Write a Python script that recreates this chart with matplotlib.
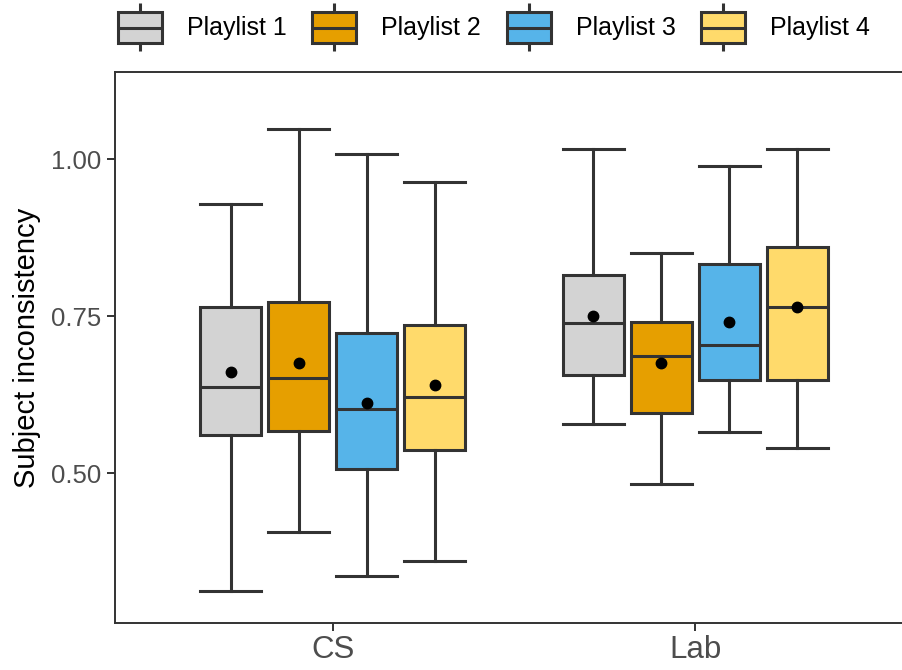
import matplotlib
matplotlib.use("Agg")
import matplotlib.pyplot as plt
from matplotlib.patches import Rectangle
from matplotlib.lines import Line2D

plt.rcParams['font.family'] = ['Liberation Sans', 'DejaVu Sans']

# Data: boxplot summary statistics per playlist within each setting
groups = ["CS", "Lab"]
playlists = ["Playlist 1", "Playlist 2", "Playlist 3", "Playlist 4"]
colors = ["#D3D3D3", "#E69F00", "#56B4E9", "#FFDA6B"]

whisker_low = {"CS": [0.313, 0.407, 0.337, 0.360], "Lab": [0.579, 0.483, 0.566, 0.540]}
q1 = {"CS": [0.561, 0.567, 0.507, 0.537], "Lab": [0.657, 0.596, 0.648, 0.648]}
median = {"CS": [0.638, 0.652, 0.602, 0.621], "Lab": [0.740, 0.687, 0.705, 0.764]}
q3 = {"CS": [0.764, 0.773, 0.723, 0.736], "Lab": [0.815, 0.741, 0.834, 0.861]}
whisker_high = {"CS": [0.929, 1.048, 1.008, 0.964], "Lab": [1.016, 0.851, 0.989, 1.016]}
means = {"CS": [0.662, 0.676, 0.612, 0.641], "Lab": [0.750, 0.675, 0.741, 0.765]}

y_ticks = [0.50, 0.75, 1.00]
y_tick_labels = ["0.50", "0.75", "1.00"]

W, H, DPI = 903, 670, 100
fig = plt.figure(figsize=(W / DPI, H / DPI), dpi=DPI)
ax_left, ax_right, ax_top, ax_bottom = 115, 913, 72, 623
ax = fig.add_axes([ax_left / W, 1 - ax_bottom / H, (ax_right - ax_left) / W, (ax_bottom - ax_top) / H])

edge = "#333333"
lw = 2.2
dodge = 0.75 / len(playlists)
box_w = 0.17

for gi, g in enumerate(groups):
    for pi, p in enumerate(playlists):
        pos = gi + (pi - (len(playlists) - 1) / 2) * dodge
        stats = [dict(med=median[g][pi], q1=q1[g][pi], q3=q3[g][pi],
                      whislo=whisker_low[g][pi], whishi=whisker_high[g][pi],
                      mean=means[g][pi], fliers=[])]
        ax.bxp(stats, positions=[pos], widths=[box_w], capwidths=[box_w],
               patch_artist=True, showmeans=True, showfliers=False,
               boxprops=dict(facecolor=colors[pi], edgecolor=edge, linewidth=lw),
               medianprops=dict(color=edge, linewidth=lw),
               whiskerprops=dict(color=edge, linewidth=lw),
               capprops=dict(color=edge, linewidth=lw),
               meanprops=dict(marker="o", markerfacecolor="black", markeredgecolor="black",
                              markersize=7.5),
               manage_ticks=False, zorder=2)

ax.set_xlim(-0.6, 1.6)
ax.set_ylim(0.2616, 1.139)
ax.set_xticks(range(len(groups)))
ax.set_xticklabels(groups)
ax.set_yticks(y_ticks)
ax.set_yticklabels(y_tick_labels)

for s in ax.spines.values():
    s.set_color(edge)
    s.set_linewidth(1.4)
ax.tick_params(axis="both", colors=edge, width=1.4, length=6)
ax.tick_params(axis="y", labelsize=18.5, labelcolor="#4D4D4D", pad=4)
ax.tick_params(axis="x", labelsize=22.5, labelcolor="#4D4D4D", pad=3)
ax.set_ylabel("Subject inconsistency", fontsize=21, color="black")
ax.yaxis.set_label_coords((41 - ax_left) / (ax_right - ax_left), 0.5)

# Legend drawn along the top of the figure
key_w, key_h = 44, 30
key_cy = 27.5
fx = lambda px: px / W
fy = lambda py: 1 - py / H
for i, (p, c) in enumerate(zip(playlists, colors)):
    x0 = 118 + i * 194.3
    fig.add_artist(Line2D([fx(x0 + key_w / 2)] * 2, [fy(3), fy(51)], color=edge, lw=lw,
                          transform=fig.transFigure, solid_capstyle="butt", zorder=1))
    fig.add_artist(Rectangle((fx(x0), fy(key_cy + key_h / 2)), key_w / W, key_h / H,
                             transform=fig.transFigure, facecolor=c, edgecolor=edge,
                             lw=lw, zorder=2))
    fig.add_artist(Line2D([fx(x0), fx(x0 + key_w)], [fy(key_cy)] * 2, color=edge, lw=lw,
                          transform=fig.transFigure, solid_capstyle="butt", zorder=3))
    fig.text(fx(x0 + key_w + 25), fy(key_cy), p, fontsize=18, color="black",
             ha="left", va="center")

fig.savefig("out.png", dpi=DPI)
